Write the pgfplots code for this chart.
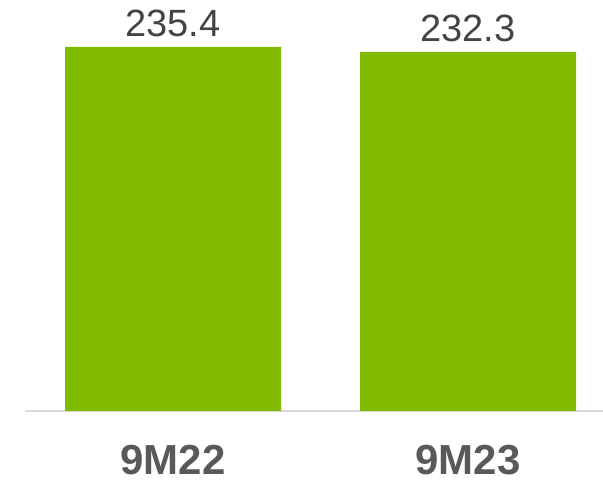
\documentclass[border=0pt]{standalone}
\usepackage{fontspec}
\setmainfont{Liberation Sans}
\usepackage{pgfplots}
\pgfplotsset{compat=1.18}
\definecolor{barg}{HTML}{7FBA00}
\definecolor{lblg}{HTML}{444444}
\definecolor{catg}{HTML}{595959}
\definecolor{lineg}{HTML}{D9D9D9}
\begin{document}
\begin{tikzpicture}
\begin{axis}[
  at={(25pt,0pt)}, anchor=south west,
  scale only axis, width=578pt, height=411pt,
  xmin=-0.5017, xmax=1.4576, ymin=0, ymax=265.8,
  axis x line=bottom, axis y line=none,
  axis line style={lineg, line width=1.5pt, -},
  xtick={0,1}, xticklabels={9M22,9M23},
  major tick length=0pt,
  xticklabel style={anchor=base, yshift=-64pt, text=catg, font=\fontsize{42}{44}\selectfont\bfseries, inner sep=0pt},
  ytick=\empty,
  ybar, bar width=216pt,
  /pgf/number format/assume math mode=true,
  nodes near coords,
  every node near coord/.style={anchor=base, yshift=10pt, text=lblg, font=\fontsize{38}{40}\selectfont, inner sep=0pt},
  nodes near coords={\pgfmathprintnumber[fixed, precision=1, fixed zerofill, assume math mode=true]{\pgfplotspointmeta}},
  clip=false,
]
\addplot[fill=barg, draw=none] coordinates {(0,235.4) (1,232.3)};
\end{axis}
\pgfresetboundingbox
\path[use as bounding box] (0pt,-70pt) rectangle (603pt,411pt);
\end{tikzpicture}
\end{document}
